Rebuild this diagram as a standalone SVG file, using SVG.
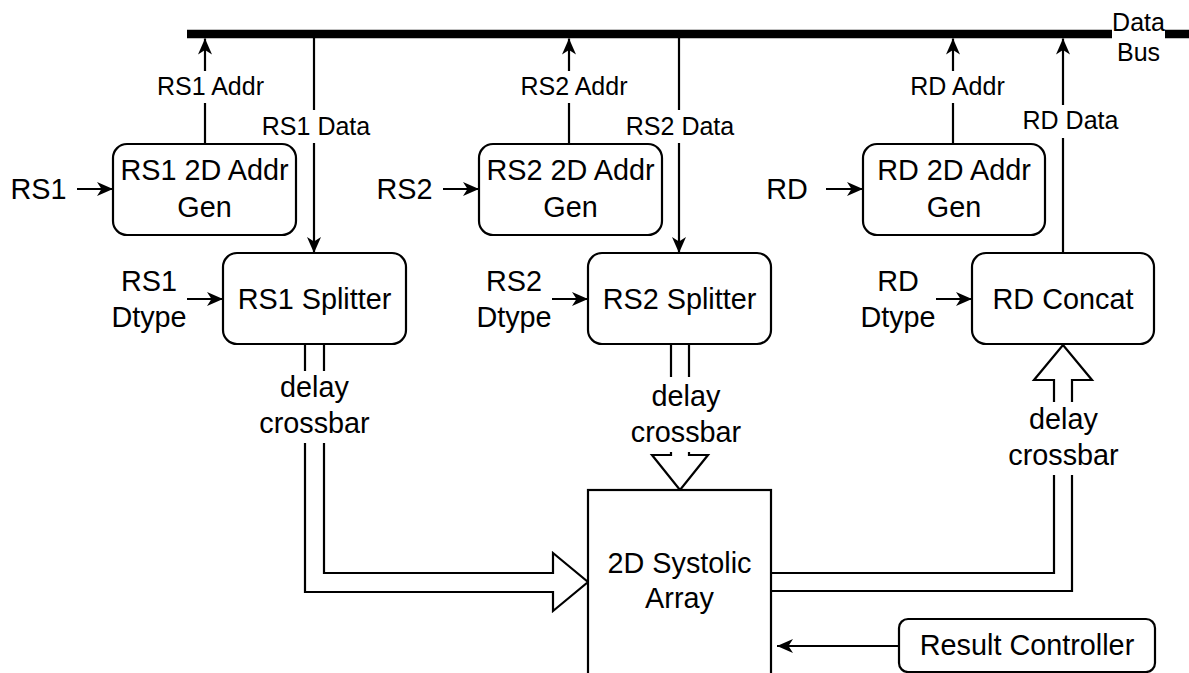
<svg xmlns="http://www.w3.org/2000/svg" width="1189" height="673" viewBox="0 0 1189 673">
<style>
.box{fill:#fff;stroke:#000;stroke-width:2.2}
.ln{fill:none;stroke:#000;stroke-width:2.2}
.flex{fill:#fff;stroke:#000;stroke-width:2.2;stroke-linejoin:miter}
.t{font-family:"Liberation Sans",Arial,sans-serif;font-size:28.8px;fill:#000;text-anchor:middle}
.lb{font-family:"Liberation Sans",Arial,sans-serif;font-size:25px;fill:#000;text-anchor:middle}
.bg{fill:#fff;stroke:none}
</style>
<defs>
<marker id="arr" viewBox="-17 -8 18 16" refX="0" refY="0" markerWidth="18" markerHeight="16" orient="auto" markerUnits="userSpaceOnUse">
<path d="M0,0 L-16,-7 L-11.5,0 L-16,7 Z" fill="#000"/>
</marker>
</defs>
<rect width="1189" height="673" fill="#fff"/>

<g id="connectors">
<!-- data bus -->
<line x1="187" y1="34" x2="1189" y2="34" stroke="#000" stroke-width="8.5"/>
<rect class="bg" x="1112" y="28" width="53" height="12"/>
<!-- addr lines up -->
<line class="ln" x1="205" y1="144" x2="205" y2="38.5" marker-end="url(#arr)"/>
<line class="ln" x1="569" y1="144" x2="569" y2="38.5" marker-end="url(#arr)"/>
<line class="ln" x1="953" y1="144" x2="953" y2="38.5" marker-end="url(#arr)"/>
<!-- data lines -->
<line class="ln" x1="314" y1="38" x2="314" y2="253" marker-end="url(#arr)"/>
<line class="ln" x1="679" y1="38" x2="679" y2="253" marker-end="url(#arr)"/>
<line class="ln" x1="1063" y1="253" x2="1063" y2="38.5" marker-end="url(#arr)"/>
<!-- input arrows -->
<line class="ln" x1="77" y1="189" x2="113" y2="189" marker-end="url(#arr)"/>
<line class="ln" x1="443" y1="189" x2="479" y2="189" marker-end="url(#arr)"/>
<line class="ln" x1="826" y1="189" x2="863" y2="189" marker-end="url(#arr)"/>
<line class="ln" x1="187" y1="299" x2="223" y2="299" marker-end="url(#arr)"/>
<line class="ln" x1="552" y1="299" x2="588" y2="299" marker-end="url(#arr)"/>
<line class="ln" x1="936" y1="299" x2="972" y2="299" marker-end="url(#arr)"/>
<line class="ln" x1="899" y1="646" x2="777" y2="646" marker-end="url(#arr)"/>
<!-- flex arrows -->
<path class="flex" d="M305,344 L305,592 L553,592 L553,611 L588,582 L553,553 L553,573 L324,573 L324,344"/>
<path class="flex" d="M671,344 L671,455 L652,455 L680,490 L708,455 L689,455 L689,344"/>
<path class="flex" d="M771,573 L1054,573 L1054,380 L1034,380 L1063,345 L1092,380 L1072,380 L1072,591 L771,591"/>
<!-- label backgrounds -->
<rect class="bg" x="156" y="71" width="110" height="32"/>
<rect class="bg" x="262" y="110" width="109" height="33"/>
<rect class="bg" x="520" y="71" width="109" height="32"/>
<rect class="bg" x="626" y="110" width="108" height="33"/>
<rect class="bg" x="910" y="71" width="96" height="32"/>
<rect class="bg" x="1023" y="105" width="96" height="33"/>
<rect class="bg" x="259" y="371" width="112" height="72"/>
<rect class="bg" x="630" y="377" width="112" height="75"/>
<rect class="bg" x="1008" y="402" width="112" height="73"/>
<!-- labels -->
<text class="lb" x="210.5" y="95">RS1 Addr</text>
<text class="lb" x="316" y="135">RS1 Data</text>
<text class="lb" x="574" y="95">RS2 Addr</text>
<text class="lb" x="680" y="135">RS2 Data</text>
<text class="lb" x="957.5" y="95">RD Addr</text>
<text class="lb" x="1070.5" y="129">RD Data</text>
<text class="lb" x="1138.5" y="31">Data</text>
<text class="lb" x="1138.5" y="61">Bus</text>
<text class="t" x="314.5" y="397">delay</text>
<text class="t" x="314.5" y="433">crossbar</text>
<text class="t" x="686" y="406">delay</text>
<text class="t" x="686" y="442">crossbar</text>
<text class="t" x="1063.5" y="429">delay</text>
<text class="t" x="1063.5" y="465">crossbar</text>
</g>

<g id="rs1-addr-gen">
<rect class="box" x="113" y="144" width="183" height="91" rx="14"/>
<text class="t" x="204.5" y="180">RS1 2D Addr</text>
<text class="t" x="204.5" y="216.5">Gen</text>
</g>
<g id="rs2-addr-gen">
<rect class="box" x="479" y="144" width="183" height="91" rx="14"/>
<text class="t" x="570.5" y="180">RS2 2D Addr</text>
<text class="t" x="570.5" y="216.5">Gen</text>
</g>
<g id="rd-addr-gen">
<rect class="box" x="863" y="144" width="182" height="91" rx="14"/>
<text class="t" x="954" y="180">RD 2D Addr</text>
<text class="t" x="954" y="216.5">Gen</text>
</g>
<g id="rs1-splitter">
<rect class="box" x="223" y="253" width="183" height="91" rx="14"/>
<text class="t" x="314.5" y="309">RS1 Splitter</text>
</g>
<g id="rs2-splitter">
<rect class="box" x="588" y="253" width="183" height="91" rx="14"/>
<text class="t" x="679.5" y="309">RS2 Splitter</text>
</g>
<g id="rd-concat">
<rect class="box" x="972" y="253" width="182" height="91" rx="14"/>
<text class="t" x="1063" y="309">RD Concat</text>
</g>
<g id="systolic-array">
<rect class="box" x="588" y="490" width="183" height="200"/>
<text class="t" x="679.5" y="573">2D Systolic</text>
<text class="t" x="679.5" y="608">Array</text>
</g>
<g id="result-controller">
<rect class="box" x="899" y="619" width="256" height="53" rx="9"/>
<text class="t" x="1027" y="655">Result Controller</text>
</g>
<g id="in-rs1"><text class="t" x="38.5" y="199">RS1</text></g>
<g id="in-rs2"><text class="t" x="404.5" y="199">RS2</text></g>
<g id="in-rd"><text class="t" x="787" y="199">RD</text></g>
<g id="in-rs1-dtype"><text class="t" x="149" y="291">RS1</text><text class="t" x="149" y="327">Dtype</text></g>
<g id="in-rs2-dtype"><text class="t" x="514" y="291">RS2</text><text class="t" x="514" y="327">Dtype</text></g>
<g id="in-rd-dtype"><text class="t" x="898" y="291">RD</text><text class="t" x="898" y="327">Dtype</text></g>
</svg>
